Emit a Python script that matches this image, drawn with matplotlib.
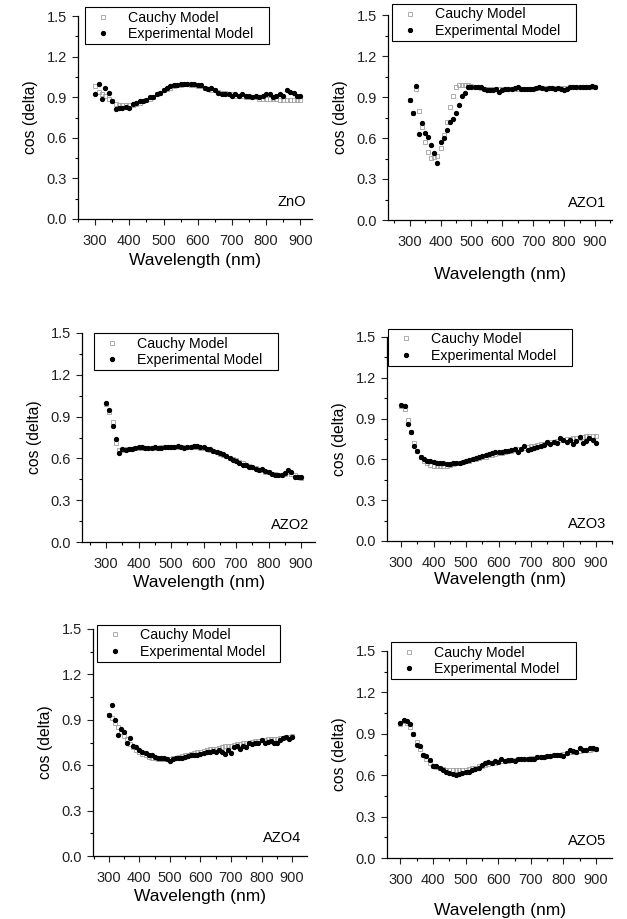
import matplotlib
matplotlib.use("Agg")
import matplotlib.pyplot as plt
from matplotlib.ticker import MultipleLocator, FormatStrFormatter

plt.rcParams['font.family'] = ['Liberation Sans', 'DejaVu Sans']

# wavelength grid (nm)
wavelength = list(range(300, 910, 10))

samples = ["ZnO", "AZO1", "AZO2", "AZO3", "AZO4", "AZO5"]
series_names = ["Cauchy Model", "Experimental Model"]

# cos(delta), 300..900 nm every 10 nm
zno_exp = [0.92, 1.00, 0.89, 0.97, 0.93, 0.87, 0.81, 0.82, 0.82, 0.83,
           0.82, 0.85, 0.86, 0.87, 0.87, 0.88, 0.90, 0.90, 0.92, 0.93,
           0.95, 0.97, 0.98, 0.99, 0.99, 1.00, 1.00, 1.00, 1.00, 1.00,
           0.99, 0.99, 0.97, 0.96, 0.97, 0.95, 0.93, 0.92, 0.92, 0.92,
           0.91, 0.92, 0.91, 0.92, 0.91, 0.91, 0.90, 0.91, 0.90, 0.91,
           0.92, 0.92, 0.90, 0.91, 0.92, 0.91, 0.95, 0.94, 0.93, 0.91,
           0.91]
zno_cauchy = [0.98, 0.94, 0.92, 0.91, 0.89, 0.87, 0.85, 0.84, 0.84, 0.84,
              0.84, 0.84, 0.85, 0.86, 0.87, 0.88, 0.89, 0.90, 0.92, 0.93,
              0.95, 0.96, 0.97, 0.98, 0.99, 0.99, 1.00, 1.00, 0.99, 0.99,
              0.98, 0.98, 0.97, 0.96, 0.95, 0.95, 0.94, 0.93, 0.93, 0.92,
              0.92, 0.91, 0.91, 0.91, 0.90, 0.90, 0.90, 0.90, 0.89, 0.89,
              0.89, 0.89, 0.89, 0.89, 0.88, 0.88, 0.88, 0.88, 0.88, 0.88,
              0.88]

azo1_exp = [0.88, 0.78, 0.98, 0.63, 0.71, 0.64, 0.61, 0.55, 0.49, 0.42,
            0.57, 0.60, 0.66, 0.72, 0.74, 0.78, 0.84, 0.91, 0.93, 0.975,
            0.975, 0.975, 0.97, 0.97, 0.96, 0.95, 0.95, 0.95, 0.955, 0.94,
            0.95, 0.955, 0.96, 0.96, 0.965, 0.97, 0.96, 0.96, 0.955, 0.955,
            0.96, 0.965, 0.97, 0.965, 0.96, 0.965, 0.965, 0.96, 0.965, 0.955,
            0.95, 0.96, 0.975, 0.97, 0.97, 0.97, 0.975, 0.975, 0.975, 0.98,
            0.975]
azo1_cauchy = [0.88, 0.78, 0.96, 0.80, 0.68, 0.57, 0.50, 0.455, 0.46, 0.47,
               0.53, 0.62, 0.72, 0.83, 0.91, 0.975, 0.99, 0.99, 0.99, 0.985,
               0.98, 0.975, 0.97, 0.965, 0.96, 0.955, 0.955, 0.955, 0.955, 0.955,
               0.955, 0.955, 0.96, 0.96, 0.96, 0.96, 0.96, 0.96, 0.96, 0.96,
               0.96, 0.965, 0.965, 0.965, 0.965, 0.965, 0.965, 0.965, 0.965, 0.965,
               0.965, 0.965, 0.97, 0.97, 0.97, 0.97, 0.97, 0.97, 0.975, 0.975,
               0.975]

azo2_exp = [1.00, 0.95, 0.83, 0.74, 0.64, 0.67, 0.66, 0.67, 0.67, 0.675,
            0.68, 0.685, 0.675, 0.675, 0.675, 0.68, 0.675, 0.675, 0.68, 0.685,
            0.685, 0.68, 0.69, 0.68, 0.675, 0.68, 0.685, 0.69, 0.69, 0.68,
            0.685, 0.67, 0.665, 0.655, 0.645, 0.64, 0.63, 0.615, 0.605, 0.59,
            0.58, 0.57, 0.555, 0.55, 0.54, 0.535, 0.525, 0.515, 0.525, 0.51,
            0.50, 0.49, 0.48, 0.48, 0.48, 0.495, 0.52, 0.50, 0.465, 0.465,
            0.465]
azo2_cauchy = [0.99, 0.93, 0.86, 0.71, 0.66, 0.66, 0.665, 0.67, 0.67, 0.675,
               0.675, 0.675, 0.675, 0.675, 0.675, 0.675, 0.675, 0.68, 0.68, 0.68,
               0.68, 0.68, 0.68, 0.68, 0.68, 0.68, 0.68, 0.68, 0.68, 0.675,
               0.675, 0.67, 0.66, 0.65, 0.645, 0.635, 0.625, 0.615, 0.605, 0.595,
               0.585, 0.575, 0.565, 0.555, 0.545, 0.535, 0.53, 0.52, 0.515, 0.505,
               0.50, 0.49, 0.485, 0.48, 0.48, 0.49, 0.50, 0.49, 0.48, 0.47,
               0.46]

azo3_exp = [1.00, 0.99, 0.86, 0.80, 0.70, 0.66, 0.62, 0.60, 0.585, 0.59,
            0.58, 0.575, 0.575, 0.57, 0.565, 0.565, 0.57, 0.575, 0.575, 0.58,
            0.585, 0.595, 0.60, 0.61, 0.62, 0.625, 0.635, 0.64, 0.65, 0.655,
            0.655, 0.655, 0.66, 0.665, 0.67, 0.68, 0.655, 0.68, 0.695, 0.67,
            0.675, 0.685, 0.69, 0.70, 0.705, 0.73, 0.715, 0.725, 0.72, 0.755,
            0.745, 0.725, 0.74, 0.71, 0.735, 0.765, 0.72, 0.735, 0.755, 0.745,
            0.72]
azo3_cauchy = [0.99, 0.97, 0.89, 0.80, 0.72, 0.66, 0.62, 0.59, 0.57, 0.56,
               0.555, 0.55, 0.55, 0.55, 0.555, 0.56, 0.565, 0.57, 0.575, 0.58,
               0.585, 0.59, 0.60, 0.605, 0.61, 0.615, 0.62, 0.63, 0.635, 0.64,
               0.645, 0.65, 0.655, 0.66, 0.665, 0.67, 0.675, 0.68, 0.685, 0.69,
               0.695, 0.70, 0.705, 0.71, 0.715, 0.72, 0.725, 0.73, 0.735, 0.74,
               0.745, 0.75, 0.75, 0.755, 0.76, 0.76, 0.765, 0.77, 0.77, 0.775,
               0.775]

azo4_exp = [0.93, 1.00, 0.90, 0.80, 0.84, 0.82, 0.75, 0.78, 0.73, 0.72,
            0.70, 0.69, 0.68, 0.67, 0.665, 0.655, 0.65, 0.645, 0.645, 0.64,
            0.625, 0.64, 0.645, 0.65, 0.65, 0.655, 0.66, 0.665, 0.665, 0.67,
            0.675, 0.68, 0.685, 0.69, 0.695, 0.685, 0.70, 0.685, 0.675, 0.70,
            0.68, 0.72, 0.73, 0.71, 0.73, 0.72, 0.745, 0.74, 0.745, 0.75,
            0.765, 0.75, 0.755, 0.76, 0.75, 0.745, 0.765, 0.78, 0.785, 0.775,
            0.785]
azo4_cauchy = [0.93, 0.91, 0.88, 0.85, 0.82, 0.79, 0.77, 0.74, 0.72, 0.70,
               0.69, 0.675, 0.665, 0.655, 0.65, 0.645, 0.64, 0.64, 0.64, 0.64,
               0.64, 0.645, 0.65, 0.655, 0.66, 0.665, 0.67, 0.675, 0.68, 0.685,
               0.69, 0.695, 0.70, 0.705, 0.71, 0.71, 0.715, 0.72, 0.725, 0.73,
               0.73, 0.735, 0.74, 0.74, 0.745, 0.75, 0.75, 0.755, 0.76, 0.76,
               0.765, 0.765, 0.77, 0.77, 0.775, 0.775, 0.78, 0.78, 0.785, 0.785,
               0.79]

azo5_exp = [0.98, 1.00, 0.99, 0.97, 0.90, 0.82, 0.81, 0.75, 0.74, 0.71,
            0.67, 0.665, 0.65, 0.635, 0.62, 0.615, 0.61, 0.60, 0.61, 0.615,
            0.62, 0.625, 0.635, 0.645, 0.655, 0.675, 0.69, 0.695, 0.69, 0.70,
            0.695, 0.715, 0.705, 0.71, 0.71, 0.705, 0.715, 0.72, 0.72, 0.72,
            0.72, 0.72, 0.73, 0.73, 0.735, 0.74, 0.74, 0.745, 0.745, 0.75,
            0.74, 0.76, 0.785, 0.775, 0.77, 0.795, 0.785, 0.78, 0.795, 0.80,
            0.79]
azo5_cauchy = [0.97, 0.99, 0.98, 0.95, 0.90, 0.84, 0.79, 0.75, 0.72, 0.69,
               0.67, 0.66, 0.65, 0.645, 0.64, 0.64, 0.635, 0.635, 0.635, 0.635,
               0.64, 0.645, 0.65, 0.655, 0.665, 0.67, 0.675, 0.68, 0.685, 0.69,
               0.695, 0.70, 0.705, 0.705, 0.71, 0.71, 0.715, 0.715, 0.72, 0.72,
               0.725, 0.725, 0.73, 0.73, 0.735, 0.74, 0.74, 0.745, 0.75, 0.75,
               0.755, 0.76, 0.765, 0.77, 0.77, 0.775, 0.78, 0.78, 0.785, 0.79,
               0.79]

cauchy = [zno_cauchy, azo1_cauchy, azo2_cauchy, azo3_cauchy, azo4_cauchy, azo5_cauchy]
experimental = [zno_exp, azo1_exp, azo2_exp, azo3_exp, azo4_exp, azo5_exp]

# axes boxes in pixels: left, top, right, bottom ; x-limits ; legend (x0, x1, top) in axes coords
W, H = 627, 919
boxes = [(78, 16, 312, 219), (388, 15, 612, 220),
         (82, 333, 315, 542), (387, 337, 612, 541),
         (93, 629, 307, 856), (387, 651, 612, 858)]
xlims = [(250, 934), (230, 955), (226, 943), (256, 950), (248, 949), (259, 949)]
legend_pos = [(0.03, 0.816, 1.044), (0.018, 0.839, 1.054),
              (0.052, 0.841, 1.0), (0.004, 0.822, 1.04),
              (0.019, 0.874, 1.018), (0.018, 0.84, 1.043)]
xlabel_pads = [3.5, 13.0, 3.0, 1.5, 2.5, 11.5]

fig = plt.figure(figsize=(W / 100, H / 100), dpi=100)

for i, name in enumerate(samples):
    l, t, r, b = boxes[i]
    ax = fig.add_axes([l / W, (H - b) / H, (r - l) / W, (b - t) / H])

    ax.plot(wavelength, cauchy[i], linestyle='none', marker='s', markersize=3.2,
            markerfacecolor='none', markeredgecolor='#a0a0a0', markeredgewidth=0.6,
            label=series_names[0])
    ax.plot(wavelength, experimental[i], linestyle='none', marker='o', markersize=2.8,
            color='black', label=series_names[1])

    ax.set_xlim(*xlims[i])
    ax.set_ylim(0, 1.5)
    ax.xaxis.set_major_locator(MultipleLocator(100))
    ax.xaxis.set_minor_locator(MultipleLocator(50))
    ax.yaxis.set_major_locator(MultipleLocator(0.3))
    ax.yaxis.set_minor_locator(MultipleLocator(0.15))
    ax.yaxis.set_major_formatter(FormatStrFormatter('%.1f'))
    ax.set_xticks([300, 400, 500, 600, 700, 800, 900])

    for side in ['top', 'right']:
        ax.spines[side].set_visible(False)
    for side in ['left', 'bottom']:
        ax.spines[side].set_linewidth(0.9)
    ax.tick_params(which='major', direction='out', length=4, width=0.8,
                   labelsize=10.5, colors='#222222', pad=4)
    ax.tick_params(which='minor', direction='out', length=2.5, width=0.8)
    ax.tick_params(axis='x', which='major', pad=7)

    ax.set_xlabel('Wavelength (nm)', fontsize=12.5, labelpad=xlabel_pads[i])
    ax.set_ylabel('cos (delta)', fontsize=11.3, labelpad=6)

    ax.text(0.975, 0.05, name, transform=ax.transAxes, ha='right', va='bottom',
            fontsize=10.5)

    x0, x1, top = legend_pos[i]
    leg = ax.legend(loc='upper left', bbox_to_anchor=(x0, top, x1 - x0, 0), mode='expand',
                    borderaxespad=0, fontsize=10.2, numpoints=1, frameon=True,
                    fancybox=False, framealpha=1, edgecolor='black',
                    labelspacing=0.15, borderpad=0.25, handletextpad=0.8)
    leg.get_frame().set_linewidth(0.8)

fig.savefig('out.png', dpi=100, facecolor='white')
